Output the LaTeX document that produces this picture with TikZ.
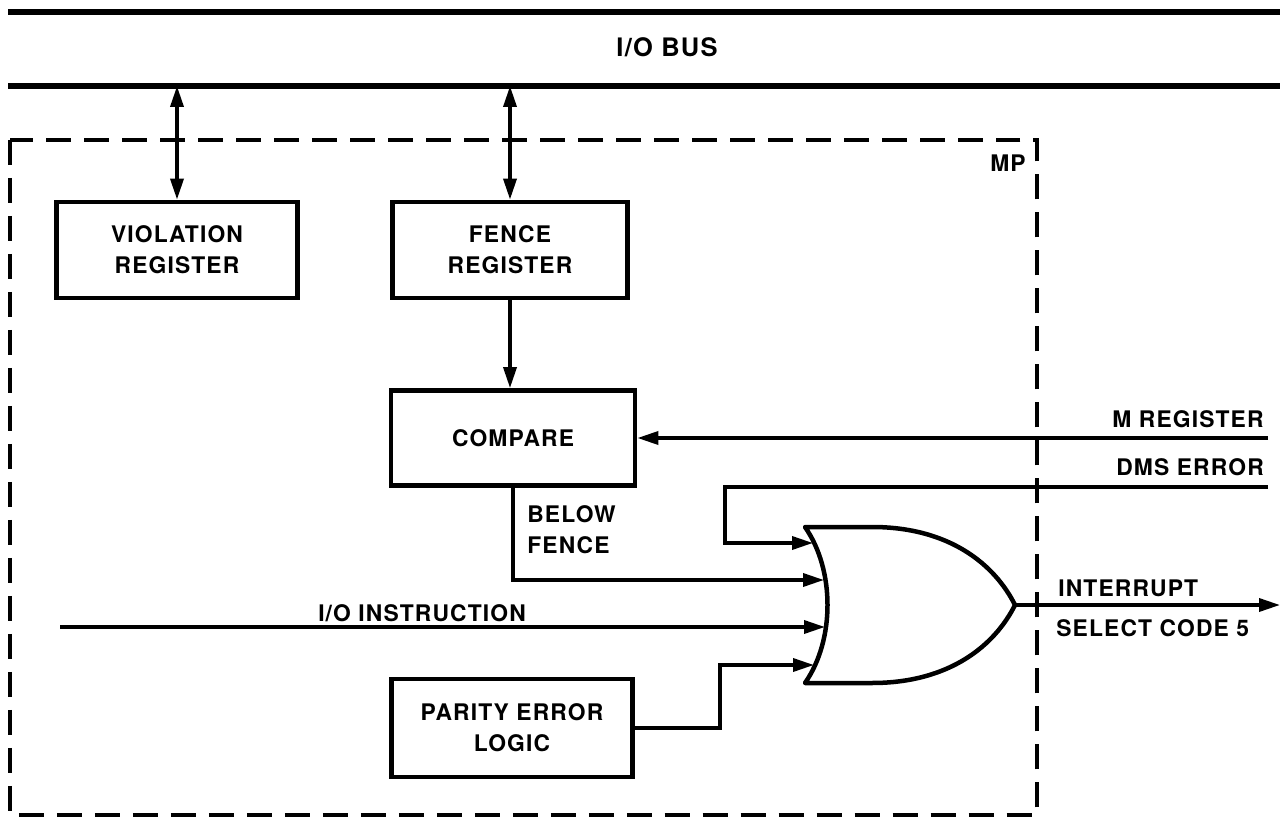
\documentclass[tikz,border=0pt]{standalone}
\usepackage{fontspec}
\setmainfont{TeX Gyre Heros}[LetterSpace=5]
\usetikzlibrary{arrows.meta}
\newcommand\lblfont{\fontsize{13}{17.5}\selectfont\bfseries}
\newcommand\busfont{\fontsize{14.5}{17.5}\selectfont\bfseries}
\tikzset{
  blk/.style={draw, line width=0.95mm, align=center, font=\lblfont, inner sep=0pt},
  wire/.style={line width=0.7mm},
  tip/.tip={Triangle[length=4.2mm,width=2.6mm]},
  arr/.style={wire, -tip},
  biarr/.style={wire, tip-tip},
  bus/.style={line width=1.15mm},
  frame/.style={line width=0.75mm, dash pattern=on 5mm off 2.6mm},
  lbl/.style={font=\lblfont, align=center, inner sep=0pt},
  gate/.style={line width=0.9mm, line join=round}
}
\begin{document}
\begin{tikzpicture}[x=0.02cm, y=-0.02cm]
\useasboundingbox (0,0) rectangle (1280,820);

% I/O bus
\coordinate (busa) at (8,12);
\coordinate (busb) at (8,86);
\draw[bus] (busa) -- (1280,12);
\draw[bus] (busb) -- (1280,86);
\node[lbl, font=\busfont] (busname) at (667,47) {I/O BUS};

% memory protect boundary
\draw[frame] (10,140) rectangle (1037,815);
\node[lbl] (mp) at (1008,163) {MP};

% registers and logic blocks
\node[blk, minimum width=4.82cm, minimum height=1.92cm] (viol) at (177,250) {VIOLATION\\REGISTER};
\node[blk, minimum width=4.70cm, minimum height=1.92cm] (fence) at (510,250) {FENCE\\REGISTER};
\node[blk, minimum width=4.88cm, minimum height=1.90cm] (cmp) at (513,438) {COMPARE};
\node[blk, minimum width=4.82cm, minimum height=1.96cm] (par) at (512,728) {PARITY ERROR\\LOGIC};

% bus connections
\draw[biarr] (viol.north |- busb) -- (viol.north);
\draw[biarr] (fence.north |- busb) -- (fence.north);
\draw[arr] (fence.south) -- (fence.south |- cmp.north);

% OR gate
\draw[gate] (805,527) -- (872,527)
  .. controls (950,527) and (995,565) .. (1015,605)
  .. controls (995,645) and (950,683) .. (872,683)
  -- (805,683)
  .. controls (835,640) and (835,570) .. (805,527) -- cycle;
\coordinate (g1) at (813,543);
\coordinate (g2) at (824,580);
\coordinate (g3) at (825,627);
\coordinate (g4) at (814,665);
\coordinate (gout) at (1015,605);

% external signals
\coordinate (mreg) at (1268,438);
\coordinate (dms) at (1268,487);
\coordinate (ioi) at (60,627);
\coordinate (intr) at (1280,605);
\node[lbl] (mregl) at (1188,419) {M REGISTER};
\node[lbl] (dmsl) at (1190,467) {DMS ERROR};
\node[lbl, anchor=west] (intl) at (1058,588) {INTERRUPT};
\node[lbl, anchor=west] (scl) at (1056,628) {SELECT CODE 5};
\node[lbl] (ioil) at (422,613) {I/O INSTRUCTION};
\node[lbl, align=left, anchor=west] (bfl) at (527,530) {BELOW\\FENCE};

\draw[arr] (mreg) -- (cmp.east |- mreg);
\draw[arr] (dms) -- (725,487) |- (g1);
\draw[arr] (cmp.south) |- (g2);
\draw[arr] (ioi) -- (g3);
\draw[arr] (par.east) -- (720,728) |- (g4);
\draw[arr] (gout) -- (intr);
\end{tikzpicture}
\end{document}
